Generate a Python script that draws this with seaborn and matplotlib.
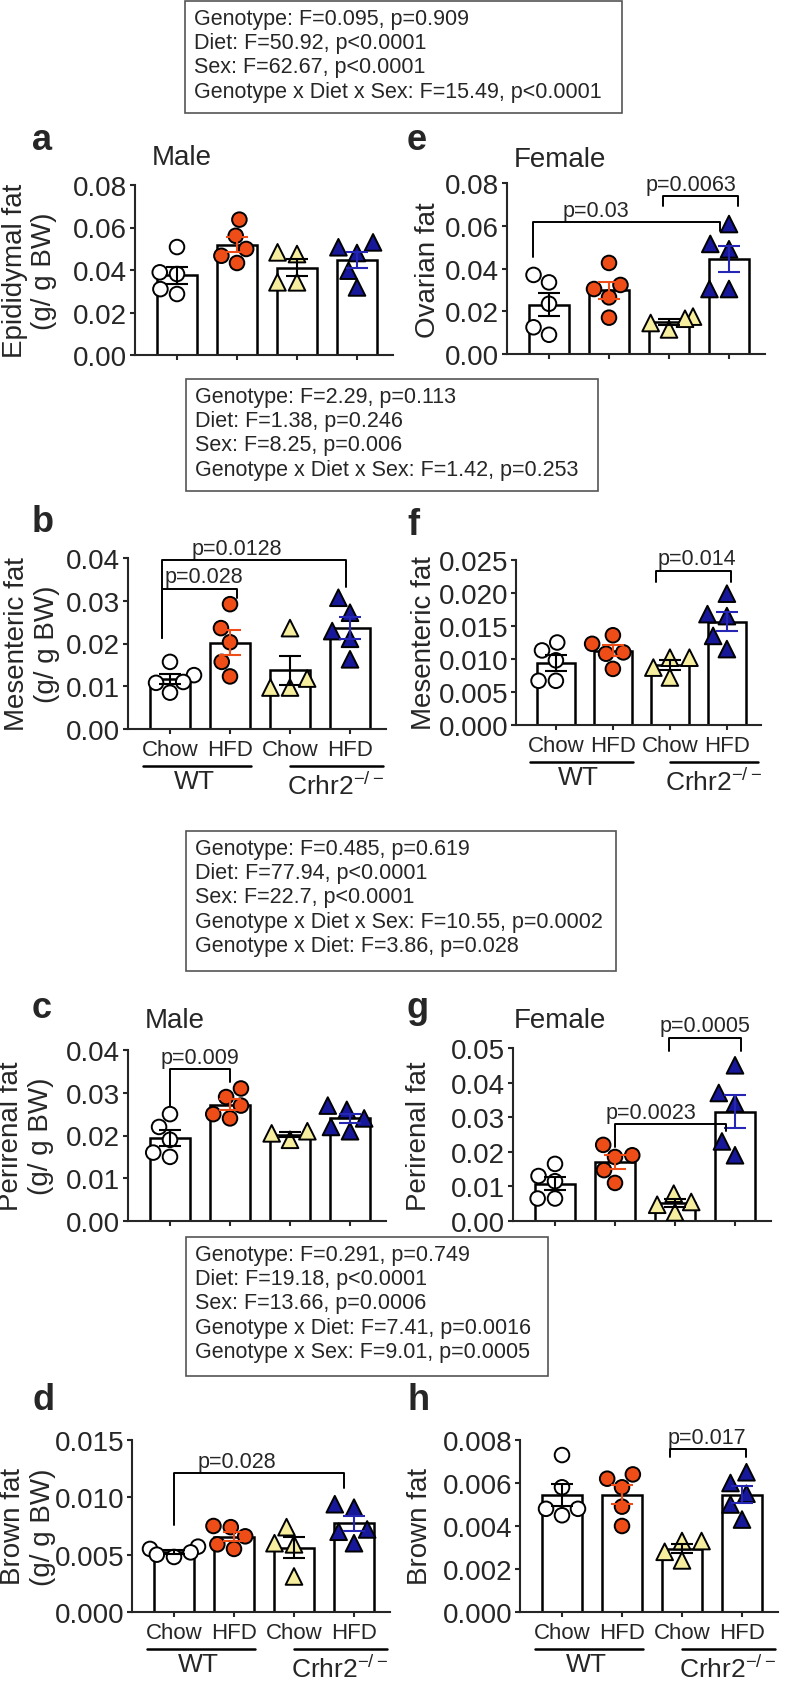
import numpy as np
import pandas as pd
import matplotlib.pyplot as plt
import seaborn as sns
from matplotlib.patches import Rectangle

W, H = 787, 1683

groups = ['WT Chow', 'WT HFD', 'KO Chow', 'KO HFD']
tick_names = ['Chow', 'HFD', 'Chow', 'HFD']
point_colors = {'WT Chow': 'white', 'WT HFD': '#EE4D18', 'KO Chow': '#F6EE9E', 'KO HFD': '#17179A'}
err_colors = ['black', '#EE4D18', 'black', '#2626B4']

# a - epididymal fat (male)
a_vals = [[0.0508, 0.0389, 0.0381, 0.0310, 0.0287],
          [0.0637, 0.0561, 0.0499, 0.0467, 0.0433],
          [0.0483, 0.0475, 0.0342, 0.0342],
          [0.0530, 0.0507, 0.0480, 0.0397, 0.0318]]
# b - mesenteric fat (male)
b_vals = [[0.0157, 0.0126, 0.0110, 0.0108, 0.0085],
          [0.0292, 0.0236, 0.0203, 0.0157, 0.0123],
          [0.0236, 0.0118, 0.0097, 0.0097],
          [0.0307, 0.0272, 0.0229, 0.0211, 0.0163]]
# c - perirenal fat (male)
c_vals = [[0.0250, 0.0220, 0.0190, 0.0160, 0.0150],
          [0.0310, 0.0290, 0.0270, 0.0250, 0.0240],
          [0.0210, 0.0205, 0.0190],
          [0.0270, 0.0260, 0.0240, 0.0220, 0.0210]]
# d - brown fat (male)
d_vals = [[0.0057, 0.0055, 0.0052, 0.0050, 0.0048],
          [0.0075, 0.0074, 0.0066, 0.0059, 0.0055],
          [0.0074, 0.0060, 0.0059, 0.0031],
          [0.0094, 0.0091, 0.0072, 0.0070, 0.0060]]
# e - ovarian fat (female)
e_vals = [[0.0370, 0.0335, 0.0235, 0.0125, 0.0090],
          [0.0426, 0.0323, 0.0304, 0.0265, 0.0170],
          [0.0175, 0.0165, 0.0145, 0.0115],
          [0.0608, 0.0515, 0.0490, 0.0304, 0.0304]]
# f - mesenteric fat (female)
f_vals = [[0.0125, 0.0113, 0.0098, 0.0067, 0.0067],
          [0.0136, 0.0123, 0.0110, 0.0108, 0.0085],
          [0.0102, 0.0102, 0.0087, 0.0072],
          [0.0199, 0.0168, 0.0165, 0.0135, 0.0115]]
# g - perirenal fat (female)
g_vals = [[0.0165, 0.0130, 0.0115, 0.0065, 0.0065],
          [0.0220, 0.0190, 0.0185, 0.0147, 0.0110],
          [0.0079, 0.0055, 0.0047, 0.0025],
          [0.0450, 0.0370, 0.0340, 0.0230, 0.0190]]
# h - brown fat (female)
h_vals = [[0.0073, 0.0058, 0.0048, 0.0048, 0.0045],
          [0.0064, 0.0062, 0.0058, 0.0049, 0.0040],
          [0.0033, 0.0033, 0.0028, 0.0024],
          [0.0065, 0.0060, 0.0055, 0.0050, 0.0043]]

# brackets: x1, x2, y, left leg end, right leg end, text, text x
b_brackets = [(-0.13, 2.93, 0.0395, 0.0214, 0.0333, 'p=0.0128', 1.12),
              (-0.13, 1.12, 0.0328, 0.0214, 0.0307, 'p=0.028', 0.57)]
c_brackets = [(0.0, 1.0, 0.0355, 0.027, 0.0325, 'p=0.009', 0.5)]
d_brackets = [(0.0, 2.83, 0.0121, 0.0076, 0.0108, 'p=0.028', 1.05)]
e_brackets = [(-0.27, 2.85, 0.0618, 0.0454, 0.0575, 'p=0.03', 0.78),
              (1.9, 3.15, 0.0739, 0.0692, 0.0692, 'p=0.0063', 2.37)]
f_brackets = [(1.75, 3.07, 0.0234, 0.0217, 0.0217, 'p=0.014', 2.47)]
g_brackets = [(1.9, 3.1, 0.053, 0.049, 0.049, 'p=0.0005', 2.5),
              (1.0, 2.85, 0.028, 0.0215, 0.026, 'p=0.0023', 1.6)]
h_brackets = [(1.8, 3.07, 0.00756, 0.0072, 0.0072, 'p=0.017', 2.42)]

box_a = ['Genotype: F=0.095, p=0.909', 'Diet: F=50.92, p<0.0001',
         'Sex: F=62.67, p<0.0001', 'Genotype x Diet x Sex: F=15.49, p<0.0001']
box_b = ['Genotype: F=2.29, p=0.113', 'Diet: F=1.38, p=0.246',
         'Sex: F=8.25, p=0.006', 'Genotype x Diet x Sex: F=1.42, p=0.253']
box_c = ['Genotype: F=0.485, p=0.619', 'Diet: F=77.94, p<0.0001', 'Sex: F=22.7, p<0.0001',
         'Genotype x Diet x Sex: F=10.55, p=0.0002', 'Genotype x Diet: F=3.86, p=0.028']
box_d = ['Genotype: F=0.291, p=0.749', 'Diet: F=19.18, p<0.0001', 'Sex: F=13.66, p=0.0006',
         'Genotype x Diet: F=7.41, p=0.0016', 'Genotype x Sex: F=9.01, p=0.0005']

sns.set_style('ticks')
plt.rcParams['font.family'] = ['Liberation Sans', 'DejaVu Sans']
plt.rcParams['mathtext.default'] = 'regular'

fig = plt.figure(figsize=(W / 100, H / 100), dpi=100)


def make_df(vals):
    rows = [(g, v) for g, vs in zip(groups, vals) for v in vs]
    return pd.DataFrame(rows, columns=['group', 'value'])


def panel(vals, left, top, bottom, ymax, step, dec, brackets, xlabels, unit=60):
    ax = fig.add_axes([left / W, 1 - bottom / H, 4.3 * unit / W, (bottom - top) / H])
    df = make_df(vals)
    sns.barplot(data=df, x='group', y='value', order=groups, errorbar=None, color='white',
                edgecolor='black', linewidth=1.8, width=0.68, ax=ax, zorder=2)
    wt = df[df['group'].str.startswith('WT')]
    ko = df[df['group'].str.startswith('KO')]
    sns.swarmplot(data=wt, x='group', y='value', order=groups, hue='group', palette=point_colors,
                  marker='o', size=10.5, edgecolor='black', linewidth=1.4, legend=False,
                  ax=ax, zorder=3, warn_thresh=1)
    sns.swarmplot(data=ko, x='group', y='value', order=groups, hue='group', palette=point_colors,
                  marker='^', size=12, edgecolor='black', linewidth=1.4, legend=False,
                  ax=ax, zorder=3, warn_thresh=1)
    stats = df.groupby('group')['value'].agg(['mean', 'sem']).reindex(groups)
    for i, g in enumerate(groups):
        ax.errorbar(i, stats.loc[g, 'mean'], yerr=stats.loc[g, 'sem'], color=err_colors[i],
                    capsize=8, elinewidth=1.5, capthick=1.5, zorder=4)
    ax.set_xlim(-0.7, 3.6)
    ax.set_ylim(0, ymax)
    ticks = np.arange(0, ymax + step / 2, step)
    ax.set_yticks(ticks)
    ax.set_yticklabels([f'{t:.{dec}f}' for t in ticks], fontsize=20)
    ax.set_xticks(range(4))
    ax.set_xticklabels(tick_names if xlabels else [], fontsize=16)
    ax.set_xlabel('')
    ax.set_ylabel('')
    sns.despine(ax=ax)
    for s in ['left', 'bottom']:
        ax.spines[s].set_linewidth(1.5)
    ax.tick_params(axis='y', length=3.6, width=1.5, pad=2)
    ax.tick_params(axis='x', length=3.6, width=1.5, pad=3.6)
    for x1, x2, y, yl, yr, label, tx in brackets:
        ax.plot([x1, x1, x2, x2], [yl, y, y, yr], color='black', lw=1.4, clip_on=False, zorder=5)
        ax.annotate(label, (tx, y), xytext=(0, 1), textcoords='offset points',
                    ha='center', va='bottom', fontsize=15.5, annotation_clip=False)
    if xlabels:
        trans = ax.get_xaxis_transform()
        hpx = bottom - top
        uy = -37 / hpx
        ax.plot([-0.45, 1.35], [uy, uy], transform=trans, color='black', lw=1.8, clip_on=False)
        ax.plot([2.0, 3.55], [uy, uy], transform=trans, color='black', lw=1.8, clip_on=False)
        ax.text(0.4, -52 / hpx, 'WT', transform=trans, ha='center', va='center', fontsize=19)
        ax.text(2.77, -56 / hpx, r'Crhr2$^{-/-}$', transform=trans, ha='center', va='center',
                fontsize=19)
    return ax


panel(a_vals, 135, 186, 356, 0.08, 0.02, 2, [], False)
panel(b_vals, 128, 559, 730, 0.04, 0.01, 2, b_brackets, True)
panel(c_vals, 128, 1051, 1222, 0.04, 0.01, 2, c_brackets, False)
panel(d_vals, 132, 1441, 1613, 0.015, 0.005, 3, d_brackets, True)
panel(e_vals, 507, 184, 355, 0.08, 0.02, 2, e_brackets, False)
panel(f_vals, 516, 561, 726, 0.025, 0.005, 3, f_brackets, True, unit=57)
panel(g_vals, 513, 1049, 1222, 0.05, 0.01, 2, g_brackets, False)
panel(h_vals, 520, 1441, 1613, 0.008, 0.002, 3, h_brackets, True)


def ftext(x, y, s, **kw):
    fig.text(x / W, 1 - y / H, s, **kw)


# panel letters
for letter, x, y in [('a', 32, 150), ('e', 407, 150), ('b', 32, 532), ('f', 407, 535),
                     ('c', 32, 1018), ('g', 407, 1018), ('d', 32, 1410), ('h', 407, 1410)]:
    ftext(x, y, letter, fontsize=26, fontweight='bold', va='baseline')

for s, x, y in [('Male', 182, 165), ('Female', 560, 167), ('Male', 175, 1028), ('Female', 560, 1028)]:
    ftext(x, y, s, fontsize=20, ha='center', va='baseline')

# y labels
for s, x, y in [('Epididymal fat\n(g/ g BW)', 30, 271), ('Mesenteric fat\n(g/ g BW)', 32, 644),
                ('Perirenal fat\n(g/ g BW)', 26, 1136), ('Brown fat\n(g/ g BW)', 28, 1527),
                ('Ovarian fat', 428, 270), ('Mesenteric fat', 424, 643),
                ('Perirenal fat', 419, 1136), ('Brown fat', 420, 1527)]:
    ftext(x, y, s, fontsize=20, rotation=90, ha='center', va='center', linespacing=1.15,
          multialignment='center')

# stats boxes
for lines, x0, y0, x1, y1 in [(box_a, 185, 2, 622, 114), (box_b, 186, 380, 598, 492),
                              (box_c, 186, 832, 616, 972), (box_d, 186, 1238, 548, 1377)]:
    fig.add_artist(Rectangle((x0 / W, 1 - y1 / H), (x1 - x0) / W, (y1 - y0) / H,
                             transform=fig.transFigure, fill=False, ec='#555555', lw=1.2))
    ftext(x0 + 9, y0 + 7, '\n'.join(lines), fontsize=15.5, va='top', ha='left', linespacing=1.2)

fig.savefig('out.png', dpi=100)
